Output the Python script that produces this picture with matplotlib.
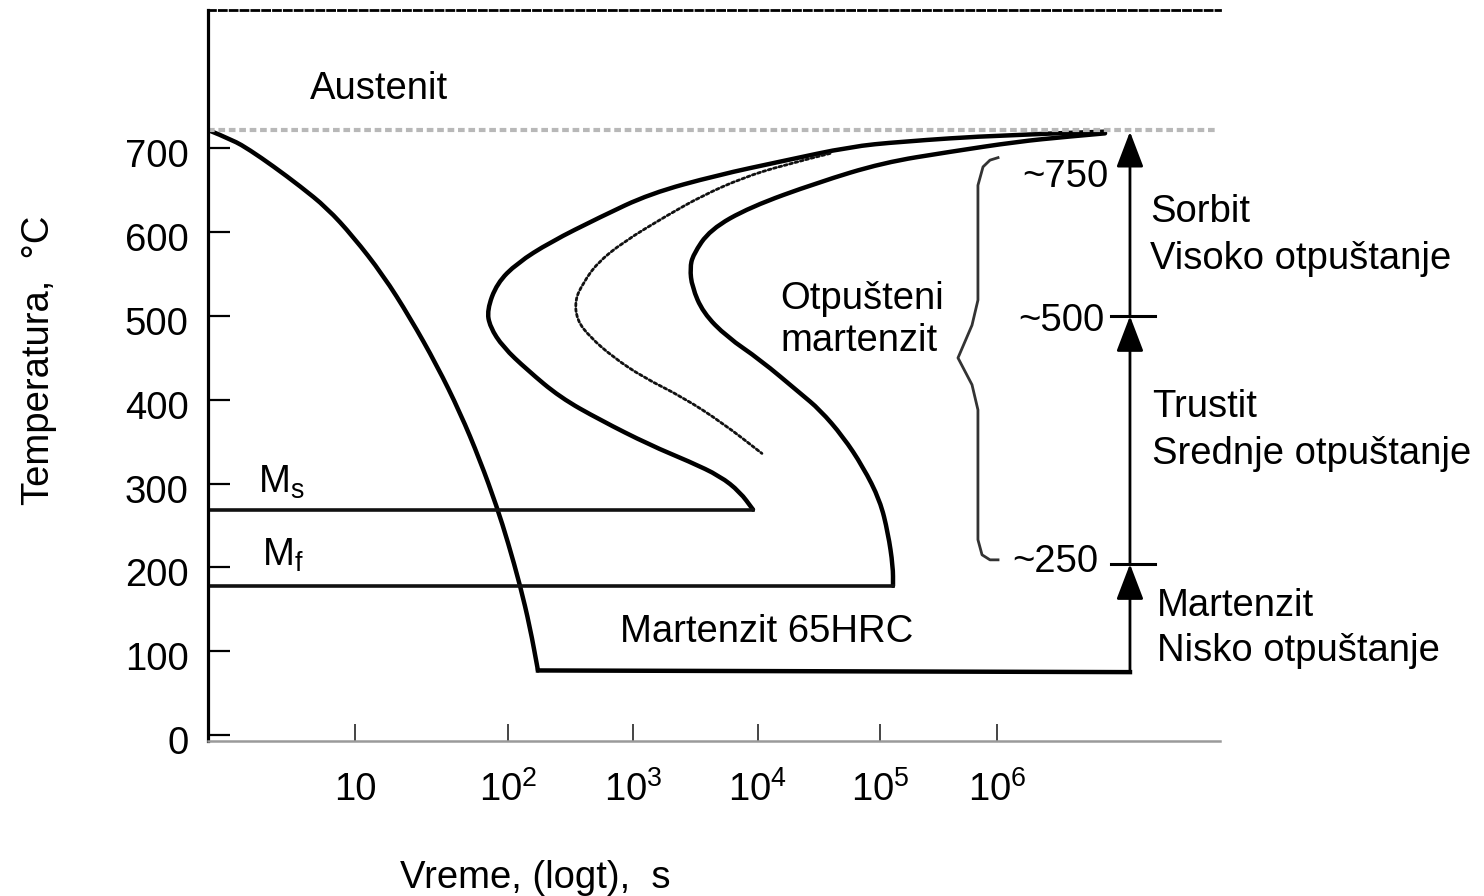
import matplotlib
matplotlib.use("Agg")
import matplotlib.pyplot as plt
import matplotlib.transforms as mtransforms
from matplotlib.path import Path
from matplotlib.patches import PathPatch

plt.rcParams['font.family'] = ['Liberation Sans', 'DejaVu Sans']
FS = 27.5

# x is log10(time) as drawn on the diagram, y is temperature in °C
x_ticks = [0.766, 2.0, 3.008, 4.016, 5.0, 5.944]
x_labels = ['10', '$\\mathregular{10^{2}}$', '$\\mathregular{10^{3}}$',
            '$\\mathregular{10^{4}}$', '$\\mathregular{10^{5}}$', '$\\mathregular{10^{6}}$']
y_ticks = [0, 100, 200, 300, 400, 500, 600, 700]

A1 = 722       # eutectoid line
Ms = 269
Mf = 178

# cooling curve down to the quench temperature
cool_t = [-0.419, -0.218, -0.081, 0.105, 0.323, 0.540, 0.750, 0.992, 1.210,
          1.427, 1.613, 1.774, 1.911, 2.0, 2.097, 2.177, 2.242]
cool_T = [722, 710, 698, 679, 655, 629, 595, 549, 498,
          441, 385, 328, 272, 230, 179, 129, 77]
quench_T = 75
arrow_x = 7.016

# start of transformation
start_t = [6.815, 5.968, 5.161, 4.758, 4.218, 3.685, 3.145, 2.742, 2.339, 2.073, 1.911,
           1.831, 1.855, 1.960, 2.153, 2.419, 2.742, 3.145, 3.468, 3.710, 3.871, 3.976]
start_T = [720, 716, 708, 702, 685, 668, 646, 618, 588, 563, 539,
           507, 487, 463, 436, 403, 376, 346, 326, 309, 290, 269]

# 50 % curve (dotted)
half_t = [4.597, 4.218, 3.895, 3.573, 3.282, 2.927, 2.718, 2.605, 2.540, 2.556,
          2.661, 2.847, 3.089, 3.411, 3.734, 4.048]
half_T = [694, 680, 665, 644, 620, 588, 563, 539, 519, 495,
          475, 451, 427, 403, 372, 336]

# end of transformation
end_t = [6.815, 6.508, 6.105, 5.565, 5.024, 4.492, 3.952, 3.629, 3.492, 3.468, 3.484,
         3.573, 3.766, 4.032, 4.355, 4.516, 4.702, 4.863, 5.0, 5.065, 5.105, 5.105]
end_T = [718, 714, 708, 696, 683, 659, 630, 603, 573, 557, 535,
         504, 475, 448, 408, 388, 356, 320, 280, 241, 201, 178]

# curly brace for tempered martensite
brace_t = [5.952, 5.887, 5.831, 5.790, 5.790, 5.742, 5.629, 5.742, 5.790, 5.790, 5.823, 5.887, 5.952]
brace_T = [689, 686, 678, 656, 519, 489, 450, 418, 388, 233, 215, 209, 209]

# vertical arrow with tempering ranges
arrow_levels = [75, 204, 500, 720]
arrow_marks = [500, 204]


def smooth_path(xs, ys):
    # quadratic bezier through the midpoints, so the hand drawn curves stay round
    verts = [(xs[0], ys[0])]
    codes = [Path.MOVETO]
    for i in range(1, len(xs) - 1):
        verts.append((xs[i], ys[i]))
        verts.append(((xs[i] + xs[i + 1]) / 2, (ys[i] + ys[i + 1]) / 2))
        codes += [Path.CURVE3, Path.CURVE3]
    verts.append((xs[-1], ys[-1]))
    codes.append(Path.LINETO)
    return Path(verts, codes)


def draw_curve(ax, xs, ys, **kw):
    patch = PathPatch(smooth_path(xs, ys), fill=False, capstyle='round', joinstyle='round', **kw)
    ax.add_patch(patch)


fig = plt.figure(figsize=(14.84, 8.96), dpi=100)
ax = fig.add_axes([208 / 1484, 1 - 741 / 896, 1012 / 1484, 731 / 896])
ax.set_xlim(-0.419, 7.742)
ax.set_ylim(-7.2, 865.2)

ax.spines['right'].set_visible(False)
ax.spines['left'].set_linewidth(2.3)
ax.spines['bottom'].set_color('#9a9a9a')
ax.spines['bottom'].set_linewidth(1.8)
ax.spines['top'].set_linestyle((0, (2.5, 1.4)))
ax.spines['top'].set_linewidth(2)

ax.set_xticks(x_ticks)
ax.set_xticklabels(x_labels)
ax.set_yticks(y_ticks)
ax.tick_params(axis='y', direction='in', length=16, width=1.6, pad=14, labelsize=FS)
ax.tick_params(axis='x', direction='in', length=12, width=1.4, color='#444444', pad=22, labelsize=FS)
offset = mtransforms.ScaledTranslation(0, -5 / 100, fig.dpi_scale_trans)
for lab in ax.get_yticklabels():
    lab.set_transform(lab.get_transform() + offset)

ax.plot([-0.419, 7.70], [A1, A1], color='#b8b8b8', lw=3, ls=(0, (1.6, 0.9)))

draw_curve(ax, cool_t, cool_T, edgecolor='black', lw=3.2)
ax.plot([cool_t[-1], arrow_x], [cool_T[-1], quench_T], color='black', lw=3.2)
draw_curve(ax, start_t, start_T, edgecolor='black', lw=3.2)
draw_curve(ax, end_t, end_T, edgecolor='black', lw=3.2)
draw_curve(ax, half_t, half_T, edgecolor='#111111', lw=2, linestyle=(0, (1.0, 1.0)))
ax.plot([-0.419, start_t[-1]], [Ms, Ms], color='#111111', lw=2.6)
ax.plot([-0.419, end_t[-1]], [Mf, Mf], color='#111111', lw=2.6)
ax.plot(brace_t, brace_T, color='#333333', lw=2, solid_joinstyle='round')

for lo, hi in zip(arrow_levels[:-1], arrow_levels[1:]):
    ax.annotate('', xy=(arrow_x, hi), xytext=(arrow_x, lo),
                arrowprops=dict(arrowstyle='-|>,head_length=1.1,head_width=0.42',
                                mutation_scale=20, color='black', lw=2,
                                shrinkA=0, shrinkB=0))
for m in arrow_marks:
    ax.plot([arrow_x - 0.15, arrow_x + 0.2], [m, m], color='black', lw=2.2)

# labels inside the diagram
ax.text(0.403, 759, 'Austenit', fontsize=FS)
ax.text(-0.016, 289, '$\\mathregular{M_s}$', fontsize=FS)
ax.text(0.016, 202, '$\\mathregular{M_f}$', fontsize=FS)
ax.text(2.903, 111, 'Martenzit 65HRC', fontsize=FS)
ax.text(4.194, 508, 'Otpušteni', fontsize=FS)
ax.text(4.194, 458, 'martenzit', fontsize=FS)
ax.text(6.145, 654, '~750', fontsize=FS)
ax.text(6.113, 482, '~500', fontsize=FS)
ax.text(6.065, 194, '~250', fontsize=FS)
ax.text(7.177, 612, 'Sorbit', fontsize=FS, clip_on=False)
ax.text(7.177, 556, 'Visoko otpuštanje', fontsize=FS, clip_on=False)
ax.text(7.194, 380, 'Trustit', fontsize=FS, clip_on=False)
ax.text(7.194, 323, 'Srednje otpuštanje', fontsize=FS, clip_on=False)
ax.text(7.234, 142, 'Martenzit', fontsize=FS, clip_on=False)
ax.text(7.234, 88, 'Nisko otpuštanje', fontsize=FS, clip_on=False)

fig.text(0.026, 0.598, 'Temperatura,  °C', rotation=90, fontsize=FS, ha='center', va='center')
fig.text(400 / 1484, 1 - 878 / 896, 'Vreme, (logt),  s', fontsize=FS, ha='left', va='center')

fig.savefig('out.png', dpi=100)
